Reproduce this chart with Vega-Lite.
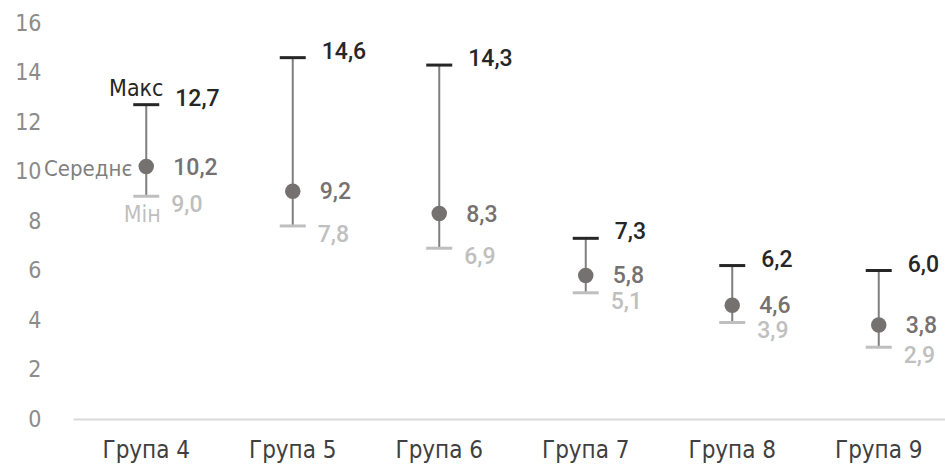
{
  "$schema": "https://vega.github.io/schema/vega-lite/v6.json",
  "autosize": "none",
  "width": 873,
  "height": 396,
  "padding": {"left": 72, "top": 23, "right": 0, "bottom": 56},
  "background": "white",
  "config": {
    "view": {"stroke": null},
    "locale": {"number": {"decimal": ",", "thousands": " ", "grouping": [3], "currency": ["", ""]}}
  },
  "data": {
    "values": [
      {"g": "Група 4", "min": 9.0, "mean": 10.2, "max": 12.7},
      {"g": "Група 5", "min": 7.8, "mean": 9.2, "max": 14.6},
      {"g": "Група 6", "min": 6.9, "mean": 8.3, "max": 14.3},
      {"g": "Група 7", "min": 5.1, "mean": 5.8, "max": 7.3},
      {"g": "Група 8", "min": 3.9, "mean": 4.6, "max": 6.2},
      {"g": "Група 9", "min": 2.9, "mean": 3.8, "max": 6.0}
    ]
  },
  "encoding": {
    "x": {
      "field": "g", "type": "nominal", "sort": null,
      "scale": {"range": [1, 880], "paddingInner": 0, "paddingOuter": 0},
      "axis": {"title": null, "labelAngle": 0, "ticks": false, "domainColor": "#d9d9d9", "domainWidth": 2,
               "labelFont": "DejaVu Sans Condensed, Roboto, sans-serif", "labelFontSize": 24, "labelColor": "#404040", "labelPadding": 19}
    }
  },
  "layer": [
    {
      "mark": {"type": "rule", "color": "#7f7f7f", "strokeWidth": 2},
      "encoding": {
        "y": {"field": "min", "type": "quantitative", "scale": {"domain": [0, 16]},
              "axis": {"title": null, "values": [0, 2, 4, 6, 8, 10, 12, 14, 16], "grid": false, "domain": false, "ticks": false,
                       "labelFont": "DejaVu Sans Condensed, Roboto, sans-serif", "labelFontSize": 23, "labelColor": "#8c8c8c", "labelPadding": 31}},
        "y2": {"field": "max"}
      }
    },
    {
      "mark": {"type": "tick", "color": "#262626", "opacity": 1, "thickness": 3, "size": 26, "orient": "horizontal"},
      "encoding": {"y": {"field": "max", "type": "quantitative"}}
    },
    {
      "mark": {"type": "tick", "color": "#bfbfbf", "opacity": 1, "thickness": 3, "size": 26, "orient": "horizontal"},
      "encoding": {"y": {"field": "min", "type": "quantitative"}}
    },
    {
      "mark": {"type": "point", "shape": "circle", "filled": true, "size": 240, "color": "#767171", "opacity": 1},
      "encoding": {"y": {"field": "mean", "type": "quantitative"}}
    },
    {
      "mark": {"type": "text", "align": "left", "baseline": "middle", "dx": 29, "dy": -6, "font": "Roboto", "fontWeight": 500, "fontSize": 23, "color": "#262626"},
      "encoding": {"y": {"field": "max", "type": "quantitative"}, "text": {"field": "max", "type": "quantitative", "format": ".1f"}}
    },
    {
      "mark": {"type": "text", "align": "left", "baseline": "middle", "dx": 27, "dy": 1, "font": "Roboto", "fontWeight": 500, "fontSize": 23, "color": "#767171"},
      "encoding": {"y": {"field": "mean", "type": "quantitative"}, "text": {"field": "mean", "type": "quantitative", "format": ".1f"}}
    },
    {
      "mark": {"type": "text", "align": "left", "baseline": "middle", "dx": 25, "dy": 9, "font": "Roboto", "fontWeight": 500, "fontSize": 23, "color": "#bfbfbf"},
      "encoding": {"y": {"field": "min", "type": "quantitative"}, "text": {"field": "min", "type": "quantitative", "format": ".1f"}}
    },
    {
      "transform": [{"filter": "datum.g === 'Група 4'"}],
      "mark": {"type": "text", "align": "center", "baseline": "alphabetic", "dx": -10, "dy": -9, "font": "DejaVu Sans Condensed, Roboto, sans-serif", "fontSize": 23, "color": "#262626"},
      "encoding": {"y": {"field": "max", "type": "quantitative"}, "text": {"value": "Макс"}}
    },
    {
      "transform": [{"filter": "datum.g === 'Група 4'"}],
      "mark": {"type": "text", "align": "right", "baseline": "middle", "dx": -14, "dy": 2, "font": "DejaVu Sans Condensed, Roboto, sans-serif", "fontSize": 22, "color": "#7f7f7f"},
      "encoding": {"y": {"field": "mean", "type": "quantitative"}, "text": {"value": "Середнє"}}
    },
    {
      "transform": [{"filter": "datum.g === 'Група 4'"}],
      "mark": {"type": "text", "align": "center", "baseline": "top", "dx": -4, "dy": 8, "font": "DejaVu Sans Condensed, Roboto, sans-serif", "fontSize": 23, "color": "#bfbfbf"},
      "encoding": {"y": {"field": "min", "type": "quantitative"}, "text": {"value": "Мін"}}
    }
  ]
}
